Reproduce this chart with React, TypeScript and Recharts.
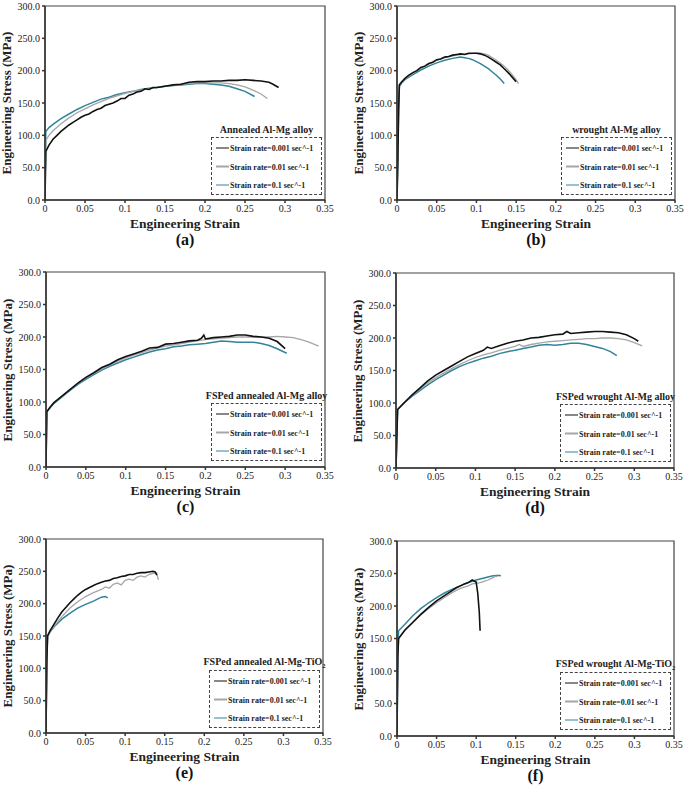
import React from 'react';
import { LineChart, Line, XAxis, YAxis, ReferenceArea } from 'recharts';

type Pt = { x: number; y: number };
const pts = (arr: number[][]): Pt[] => arr.map(([x, y]) => ({ x, y }));

const xTicks = [0, 0.05, 0.1, 0.15, 0.2, 0.25, 0.3, 0.35];
const yTicks = [0, 50, 100, 150, 200, 250, 300];
const rateLabels = ['Strain rate=0.001 sec^-1', 'Strain rate=0.01 sec^-1', 'Strain rate=0.1 sec^-1'];
const rateColors = ['#111111', '#a6a6a6', '#31849b'];
const rateWidths = [1.6, 1.3, 1.5];

// (a) annealed Al-Mg
const aSlow = pts([[0,0],[0.001,75],[0.005,85],[0.01,94],[0.015,100],[0.02,106],[0.025,111],[0.03,116],[0.035,120],[0.04,124],[0.045,128],[0.05,131],[0.055,133],[0.06,137],[0.065,140],[0.07,142],[0.075,146],[0.08,148],[0.085,150],[0.09,153],[0.095,157],[0.1,157],[0.105,162],[0.11,164],[0.115,167],[0.12,168],[0.125,172],[0.13,171],[0.135,174],[0.14,174],[0.15,176],[0.16,178],[0.17,179],[0.18,182],[0.19,183],[0.2,183],[0.21,184],[0.22,184],[0.23,185],[0.24,185],[0.25,186],[0.26,185],[0.27,184],[0.28,182],[0.285,179],[0.292,174]]);
const aMid = pts([[0,0],[0.001,92],[0.005,100],[0.01,107],[0.02,118],[0.03,127],[0.04,135],[0.05,141],[0.06,147],[0.07,152],[0.08,157],[0.09,161],[0.1,165],[0.11,168],[0.12,170],[0.13,172],[0.14,174],[0.15,176],[0.16,177],[0.17,179],[0.18,180],[0.19,181],[0.2,181],[0.21,181],[0.22,181],[0.23,180],[0.24,178],[0.25,175],[0.26,170],[0.27,164],[0.278,157]]);
const aFast = pts([[0,0],[0.001,106],[0.005,112],[0.01,117],[0.02,126],[0.03,133],[0.04,140],[0.05,146],[0.06,151],[0.07,156],[0.08,159],[0.09,163],[0.1,166],[0.11,168],[0.12,171],[0.13,173],[0.14,174],[0.15,176],[0.16,177],[0.17,178],[0.18,179],[0.19,180],[0.2,180],[0.21,179],[0.22,178],[0.23,176],[0.24,172],[0.25,168],[0.262,160]]);

// (b) wrought Al-Mg
const bSlow = pts([[0,0],[0.001,60],[0.002,140],[0.003,178],[0.006,183],[0.01,188],[0.015,193],[0.02,197],[0.025,200],[0.03,205],[0.035,207],[0.04,211],[0.045,213],[0.05,217],[0.055,218],[0.06,221],[0.065,222],[0.07,224],[0.075,225],[0.08,226],[0.085,225],[0.09,227],[0.095,227],[0.1,227],[0.105,226],[0.11,224],[0.115,221],[0.12,217],[0.125,213],[0.13,209],[0.135,203],[0.14,197],[0.145,190],[0.15,183]]);
const bMid = pts([[0,0],[0.001,60],[0.002,140],[0.003,178],[0.006,182],[0.01,187],[0.02,196],[0.03,204],[0.04,210],[0.05,216],[0.06,220],[0.07,223],[0.08,225],[0.09,226],[0.1,227],[0.105,227],[0.11,226],[0.115,224],[0.12,220],[0.125,216],[0.13,212],[0.135,207],[0.14,201],[0.145,194],[0.15,186],[0.153,180]]);
const bFast = pts([[0,0],[0.001,60],[0.002,140],[0.003,176],[0.006,181],[0.01,186],[0.02,194],[0.03,201],[0.04,207],[0.05,212],[0.06,216],[0.07,219],[0.08,221],[0.085,220],[0.09,219],[0.095,217],[0.1,214],[0.105,211],[0.11,207],[0.115,203],[0.12,198],[0.125,193],[0.13,187],[0.135,180]]);

// (c) FSPed annealed Al-Mg
const cSlow = pts([[0,0],[0.001,85],[0.005,92],[0.01,99],[0.02,109],[0.03,119],[0.04,129],[0.05,138],[0.06,145],[0.07,153],[0.08,158],[0.09,165],[0.1,170],[0.11,174],[0.12,178],[0.13,183],[0.14,184],[0.15,189],[0.16,190],[0.17,192],[0.18,194],[0.19,195],[0.195,198],[0.198,203],[0.2,197],[0.21,199],[0.22,200],[0.23,201],[0.24,203],[0.25,203],[0.26,201],[0.27,200],[0.28,198],[0.29,193],[0.3,182]]);
const cMid = pts([[0,0],[0.001,85],[0.01,99],[0.02,109],[0.03,119],[0.04,128],[0.05,137],[0.06,144],[0.07,151],[0.08,157],[0.09,163],[0.1,168],[0.11,172],[0.12,176],[0.13,180],[0.14,183],[0.15,186],[0.16,188],[0.17,190],[0.18,192],[0.19,194],[0.2,196],[0.21,197],[0.22,198],[0.23,199],[0.24,200],[0.25,200],[0.26,200],[0.27,200],[0.28,200],[0.29,201],[0.3,200],[0.31,199],[0.32,196],[0.33,192],[0.342,186]]);
const cFast = pts([[0,0],[0.001,85],[0.01,98],[0.02,108],[0.03,118],[0.04,127],[0.05,135],[0.06,142],[0.07,149],[0.08,155],[0.09,160],[0.1,165],[0.11,169],[0.12,173],[0.13,177],[0.14,180],[0.15,182],[0.16,185],[0.17,186],[0.18,188],[0.19,189],[0.2,190],[0.21,192],[0.22,194],[0.23,193],[0.24,192],[0.25,192],[0.26,192],[0.27,190],[0.28,187],[0.29,182],[0.302,175]]);

// (d) FSPed wrought Al-Mg
const dSlow = pts([[0,0],[0.002,90],[0.01,100],[0.02,112],[0.03,123],[0.04,134],[0.05,143],[0.06,150],[0.07,157],[0.08,164],[0.09,171],[0.1,176],[0.11,181],[0.115,186],[0.12,184],[0.13,188],[0.14,192],[0.15,195],[0.16,197],[0.17,200],[0.18,201],[0.19,203],[0.2,205],[0.21,206],[0.215,210],[0.22,207],[0.23,208],[0.24,209],[0.25,210],[0.26,210],[0.27,209],[0.28,208],[0.29,205],[0.3,199],[0.305,195]]);
const dMid = pts([[0,0],[0.002,90],[0.01,100],[0.02,111],[0.03,121],[0.04,131],[0.05,139],[0.06,146],[0.07,153],[0.08,159],[0.09,165],[0.1,170],[0.11,174],[0.12,177],[0.13,181],[0.14,184],[0.15,187],[0.155,190],[0.16,187],[0.17,190],[0.18,192],[0.19,194],[0.2,195],[0.21,196],[0.22,197],[0.23,198],[0.24,199],[0.25,199],[0.26,200],[0.27,200],[0.28,199],[0.29,197],[0.3,193],[0.31,188]]);
const dFast = pts([[0,0],[0.002,90],[0.01,100],[0.02,110],[0.03,119],[0.04,128],[0.05,136],[0.06,143],[0.07,150],[0.08,156],[0.09,161],[0.1,165],[0.11,169],[0.12,172],[0.13,176],[0.14,179],[0.15,181],[0.16,184],[0.17,186],[0.18,189],[0.19,190],[0.2,189],[0.21,190],[0.22,192],[0.23,192],[0.24,190],[0.25,187],[0.26,184],[0.27,179],[0.278,173]]);

// (e) FSPed annealed Al-Mg-TiO2
const eSlow = pts([[0,0],[0.001,110],[0.002,150],[0.005,158],[0.01,168],[0.015,178],[0.02,187],[0.025,194],[0.03,201],[0.035,207],[0.04,213],[0.045,218],[0.05,222],[0.055,225],[0.06,228],[0.065,231],[0.07,233],[0.075,235],[0.08,236],[0.085,239],[0.09,240],[0.095,242],[0.1,243],[0.105,245],[0.11,245],[0.115,247],[0.12,248],[0.125,248],[0.13,249],[0.135,250],[0.138,249],[0.14,244]]);
const eMid = pts([[0,0],[0.001,110],[0.002,150],[0.005,157],[0.01,165],[0.02,180],[0.03,193],[0.04,203],[0.05,211],[0.06,217],[0.07,222],[0.075,226],[0.08,224],[0.085,230],[0.09,232],[0.095,229],[0.1,236],[0.105,238],[0.11,236],[0.115,241],[0.12,243],[0.125,241],[0.13,245],[0.135,247],[0.14,247],[0.142,237]]);
const eFast = pts([[0,0],[0.001,110],[0.002,150],[0.005,156],[0.01,164],[0.02,176],[0.03,185],[0.04,193],[0.05,199],[0.06,204],[0.065,207],[0.07,210],[0.075,211],[0.078,209]]);

// (f) FSPed wrought Al-Mg-TiO2
const fSlow = pts([[0,0],[0.001,120],[0.002,150],[0.01,163],[0.02,175],[0.03,187],[0.04,198],[0.05,208],[0.06,216],[0.07,224],[0.075,228],[0.08,231],[0.085,234],[0.09,236],[0.095,240],[0.098,238],[0.1,237],[0.102,220],[0.104,190],[0.105,162]]);
const fMid = pts([[0,0],[0.001,120],[0.002,150],[0.01,162],[0.02,174],[0.03,186],[0.04,196],[0.05,205],[0.06,213],[0.07,221],[0.08,227],[0.09,231],[0.095,234],[0.1,235],[0.105,236],[0.11,238],[0.115,240],[0.12,243],[0.125,246],[0.127,245]]);
const fFast = pts([[0,0],[0.001,130],[0.002,162],[0.01,172],[0.02,185],[0.03,196],[0.04,205],[0.05,213],[0.06,220],[0.07,226],[0.08,231],[0.09,236],[0.1,240],[0.11,243],[0.12,246],[0.125,247],[0.13,247],[0.131,246]]);

const FONT = '"Liberation Serif", "Times New Roman", serif';

interface PanelProps {
  series: Pt[][];
  title: string;
  titleSub?: string;
  letter: string;
  plot: [number, number, number, number]; // left, top, width, height
}

const Panel = ({ series, title, titleSub, letter, plot }: PanelProps) => {
  const [L, T, W, H] = plot;
  const yAxisW = 45;
  const chartW = yAxisW + W + 14;
  const chartH = 6 + H + 18;
  const boxW = 111;
  const boxLeft = L + W - 3 - boxW;
  const boxTop = T + 131;
  return (
    <>
      <div style={{ position: 'absolute', left: L - yAxisW, top: T - 6 }}>
        <LineChart width={chartW} height={chartH} margin={{ top: 6, right: 14, left: 0, bottom: 0 }} style={{ overflow: 'visible' }}>
          <XAxis
            dataKey="x" type="number" domain={[0, 0.35]} ticks={xTicks} allowDataOverflow
            height={18} tickSize={3} tickMargin={2} interval={0}
            tickFormatter={(v: number) => String(v)}
            tick={{ fontSize: 10, fill: '#222', fontFamily: FONT }}
            stroke="#333" strokeWidth={1.5}
          />
          <YAxis
            type="number" domain={[0, 300]} ticks={yTicks} width={yAxisW}
            tickSize={3} tickMargin={2} interval={0}
            tickFormatter={(v: number) => v.toFixed(1)}
            tick={{ fontSize: 10, fill: '#222', fontFamily: FONT }}
            stroke="#333" strokeWidth={1.5}
          />
          <ReferenceArea x1={0} x2={0.35} y1={0} y2={300} fill="none" stroke="#444" strokeWidth={1.2} />
          {series.map((d, i) => (
            <Line
              key={i} data={d} dataKey="y" type="linear" dot={false}
              stroke={rateColors[i]} strokeWidth={rateWidths[i]} isAnimationActive={false}
            />
          )).reverse()}
        </LineChart>
      </div>
      <div style={{ position: 'absolute', left: L - 38, top: T + H / 2, transform: 'translate(-50%, -50%) rotate(-90deg)', whiteSpace: 'nowrap', fontWeight: 'bold', fontSize: 13, color: '#222' }}>
        Engineering Stress (MPa)
      </div>
      <div style={{ position: 'absolute', left: L + W / 2, top: T + H + 24, transform: 'translate(-50%, -50%)', whiteSpace: 'nowrap', fontWeight: 'bold', fontSize: 13.5, color: '#222' }}>
        Engineering Strain
      </div>
      <div style={{ position: 'absolute', left: L + W / 2, top: T + H + 40, transform: 'translate(-50%, -50%)', whiteSpace: 'nowrap', fontWeight: 'bold', fontSize: 16, color: '#111' }}>
        ({letter})
      </div>
      <div style={{ position: 'absolute', left: boxLeft + boxW / 2, top: T + 123, transform: 'translate(-50%, -50%)', whiteSpace: 'nowrap', fontWeight: 'bold', fontSize: 10, color: '#222' }}>
        {title}{titleSub ? <sub style={{ fontSize: 6.5 }}>{titleSub}</sub> : null}
      </div>
      <div style={{ position: 'absolute', left: boxLeft, top: boxTop, width: boxW, height: 58, boxSizing: 'border-box', border: '1px dashed #444' }}>
        {rateLabels.map((lab, i) => (
          <div key={lab} style={{ position: 'absolute', left: 4, top: [10, 28.5, 47][i], transform: 'translateY(-50%)', display: 'flex', alignItems: 'center', whiteSpace: 'nowrap' }}>
            <div style={{ width: 13, height: rateWidths[i], background: rateColors[i] }} />
            <span style={{ fontWeight: 'bold', fontSize: 8, color: '#222', marginLeft: 1 }}>{lab}</span>
          </div>
        ))}
      </div>
    </>
  );
};

export default function App() {
  return (
    <div style={{ position: 'absolute', left: 0, top: 0, width: 685, height: 790, background: '#fff', fontFamily: FONT, overflow: 'hidden' }}>
      <Panel series={[aSlow, aMid, aFast]} title="Annealed Al-Mg alloy" letter="a" plot={[45, 6, 280, 194]} />
      <Panel series={[bSlow, bMid, bFast]} title="wrought Al-Mg alloy" letter="b" plot={[397, 6, 278, 194]} />
      <Panel series={[cSlow, cMid, cFast]} title="FSPed annealed Al-Mg alloy" letter="c" plot={[46, 272, 279, 195]} />
      <Panel series={[dSlow, dMid, dFast]} title="FSPed wrought Al-Mg alloy" letter="d" plot={[396, 273, 278, 195]} />
      <Panel series={[eSlow, eMid, eFast]} title="FSPed annealed Al-Mg-TiO" titleSub="2" letter="e" plot={[46, 539, 277, 194]} />
      <Panel series={[fSlow, fMid, fFast]} title="FSPed wrought Al-Mg-TiO" titleSub="2" letter="f" plot={[397, 541, 277, 195]} />
    </div>
  );
}
